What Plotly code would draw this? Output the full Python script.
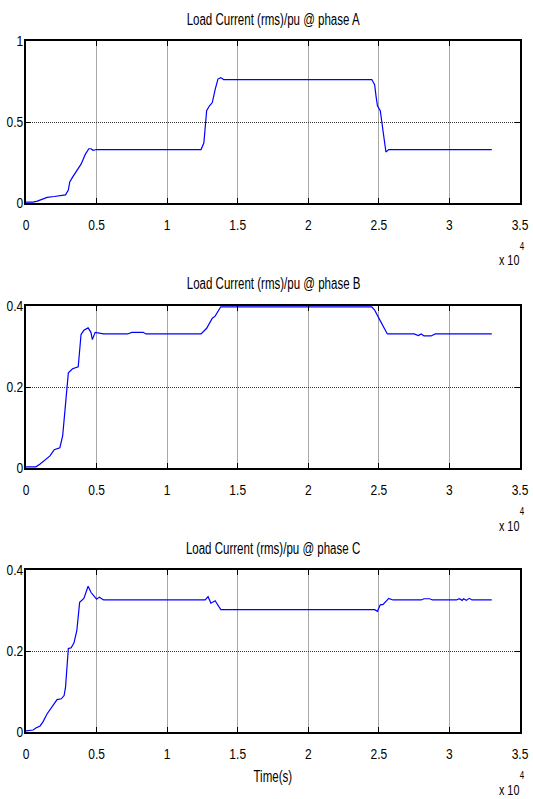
import plotly.graph_objects as go

# time axis values in units of 1e4 s
xa = [0, 0.05, 0.08, 0.1, 0.15, 0.2, 0.25, 0.28, 0.3, 0.31, 0.33, 0.36, 0.39, 0.42, 0.445, 0.46, 0.475, 0.5,
      1.24, 1.26, 1.27, 1.28, 1.3, 1.32, 1.34, 1.36, 1.38, 1.4, 2.45, 2.47, 2.48, 2.49, 2.51, 2.53, 2.55, 2.57, 2.59, 3.3]
ya = [0.005, 0.005, 0.012, 0.02, 0.035, 0.04, 0.045, 0.05, 0.08, 0.13, 0.16, 0.2, 0.24, 0.3, 0.335, 0.335, 0.325, 0.33,
      0.33, 0.37, 0.45, 0.57, 0.6, 0.62, 0.7, 0.765, 0.774, 0.762, 0.762, 0.73, 0.66, 0.6, 0.57, 0.45, 0.315, 0.33, 0.33, 0.33]

xb = [0, 0.07, 0.1, 0.17, 0.2, 0.24, 0.26, 0.27, 0.29, 0.3, 0.33, 0.37, 0.39, 0.41, 0.44, 0.46, 0.47, 0.49, 0.55,
      0.72, 0.75, 0.83, 0.85, 1.24, 1.28, 1.32, 1.34, 1.37, 1.38, 2.45, 2.47, 2.5, 2.53, 2.56, 2.75, 2.78, 2.8, 2.82,
      2.87, 2.9, 3.3]
yb = [0.003, 0.003, 0.01, 0.03, 0.045, 0.05, 0.08, 0.12, 0.2, 0.235, 0.245, 0.25, 0.33, 0.34, 0.346, 0.335, 0.317,
      0.335, 0.331, 0.331, 0.335, 0.335, 0.331, 0.331, 0.345, 0.37, 0.375, 0.395, 0.398, 0.398, 0.39, 0.37, 0.35,
      0.331, 0.331, 0.327, 0.331, 0.326, 0.326, 0.331, 0.331]

xc = [0, 0.05, 0.07, 0.1, 0.12, 0.15, 0.2, 0.22, 0.25, 0.27, 0.28, 0.29, 0.3, 0.32, 0.34, 0.36, 0.38, 0.41, 0.44,
      0.46, 0.5, 0.52, 0.55, 1.27, 1.29, 1.31, 1.34, 1.38, 2.47, 2.49, 2.51, 2.53, 2.57, 2.6, 2.8, 2.82, 2.86, 2.88,
      3.05, 3.07, 3.09, 3.1, 3.12, 3.14, 3.16, 3.3]
yc = [0.003, 0.005, 0.01, 0.015, 0.025, 0.045, 0.07, 0.08, 0.082, 0.09, 0.11, 0.15, 0.206, 0.208, 0.22, 0.25, 0.32,
      0.33, 0.36, 0.345, 0.328, 0.333, 0.326, 0.326, 0.334, 0.318, 0.324, 0.302, 0.302, 0.298, 0.314, 0.315, 0.33,
      0.326, 0.326, 0.329, 0.329, 0.326, 0.326, 0.329, 0.325, 0.329, 0.325, 0.33, 0.326, 0.326]

titles = ["Load Current (rms)/pu @ phase A", "Load Current (rms)/pu @ phase B", "Load Current (rms)/pu @ phase C"]
x_tickvals = [0, 0.5, 1, 1.5, 2, 2.5, 3, 3.5]
x_ticktext = ["0", "0.5", "1", "1.5", "2", "2.5", "3", "3.5"]
y_ranges = [[0, 1], [0, 0.4], [0, 0.4]]
y_ticks = [[0, 0.5, 1], [0, 0.2, 0.4], [0, 0.2, 0.4]]
y_ticktext = [["0", "0.5", "1"], ["0", "0.2", "0.4"], ["0", "0.2", "0.4"]]

W, H = 533, 799
FONT = "Liberation Sans, Arial, sans-serif"

# pixel boxes of plot areas (top, bottom)
boxes = [(41, 203), (306, 468), (570, 732)]
xl, xr = 26, 520

fig = go.Figure()
series = [(xa, ya), (xb, yb), (xc, yc)]
layout = {}
annotations = []


def ann(text, px, py, size, anchor="center"):
    return dict(text=text, x=px / W, y=1 - py / H, xref="paper", yref="paper", showarrow=False,
                xanchor=anchor, yanchor="middle", font=dict(family=FONT, size=size, color="black"))


for i, ((xs, ys), (top, bot)) in enumerate(zip(series, boxes)):
    n = "" if i == 0 else str(i + 1)
    fig.add_trace(go.Scatter(x=xs, y=ys, mode="lines", line=dict(color="#0000ff", width=1.2),
                             xaxis="x" + n, yaxis="y" + n, showlegend=False))
    common = dict(showline=True, linecolor="black", linewidth=1.6, mirror="ticks", ticks="inside",
                  ticklen=5, tickcolor="black", tickwidth=1, showgrid=True, gridwidth=1, zeroline=False,
                  automargin=False, tickfont=dict(family=FONT, size=15, color="black"))
    layout["xaxis" + n] = dict(domain=[xl / W, xr / W], range=[0, 3.5], tickvals=x_tickvals,
                               ticktext=x_ticktext, anchor="y" + n, gridcolor="#a8a8a8",
                               ticklabelstandoff=7, **common)
    layout["yaxis" + n] = dict(domain=[1 - bot / H, 1 - top / H], range=y_ranges[i], tickvals=y_ticks[i],
                               ticktext=y_ticktext[i], anchor="x" + n, gridcolor="#333333",
                               griddash="1px,1px", ticklabelstandoff=-2, **common)
    annotations.append(ann(titles[i], (xl + xr) / 2, top - 22, 16))
    annotations.append(ann("x 10", 493, bot + 57, 15, "left"))
    annotations.append(ann("4", 517, bot + 43, 11, "left"))

annotations.append(ann("Time(s)", (xl + xr) / 2, 776, 16))

fig.update_layout(width=W, height=H, margin=dict(l=0, r=0, t=0, b=0), paper_bgcolor="white",
                  plot_bgcolor="white", annotations=annotations, showlegend=False, **layout)

# condense the glyphs horizontally (the original uses a narrow sans font), keeping each anchor point
post = """
var gd = document.getElementById('{plot_id}');
function sq(t, k) {
  if (t.getAttribute('data-sq')) return;
  var L = t.getComputedTextLength();
  if (!(L > 0)) return;
  var b0 = t.getBBox();
  t.setAttribute('textLength', (L * k).toFixed(2));
  t.setAttribute('lengthAdjust', 'spacingAndGlyphs');
  t.setAttribute('data-sq', '1');
  var b1 = t.getBBox();
  var a = t.getAttribute('text-anchor') || 'start';
  var d = 0;
  if (a === 'end') d = (b0.x + b0.width) - (b1.x + b1.width);
  else if (a === 'middle') d = (b0.x + b0.width / 2) - (b1.x + b1.width / 2);
  else d = b0.x - b1.x;
  if (Math.abs(d) > 0.05) t.setAttribute('x', (parseFloat(t.getAttribute('x') || '0') + d).toFixed(2));
}
function squish() {
  gd.querySelectorAll('g[class$="tick"] > text').forEach(function (t) { sq(t, 0.8); });
  gd.querySelectorAll('text.annotation-text').forEach(function (t) { sq(t, 0.72); });
}
squish();
gd.on('plotly_afterplot', squish);
"""
fig.write_html("out.html", post_script=post)
